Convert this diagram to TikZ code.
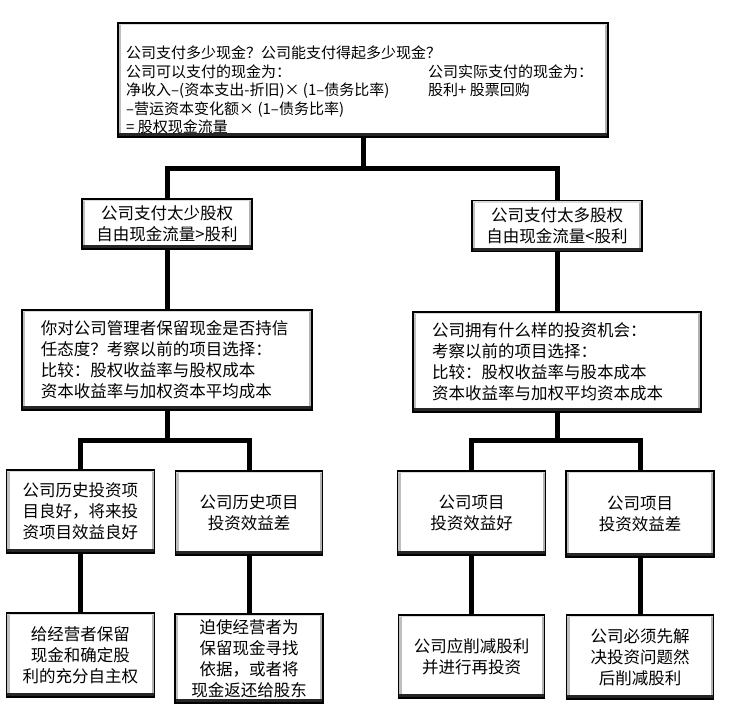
\documentclass[tikz,border=0pt]{standalone}
\usepackage{fontspec}
\newfontfamily\cjk{Noto Sans CJK SC}
\pgfdeclarelayer{bg}
\pgfsetlayers{bg,main}
\tikzset{
  bx/.style={draw=black, line width=1.2pt, fill=white, inner sep=0pt, outer sep=0pt,
    align=center, font=\cjk\fontsize{16.5}{21}\selectfont},
  midtxt/.style={align=left, inner xsep=19pt},
  conn/.style={line width=5pt, line join=miter, line cap=butt, draw=black},
  toptxt/.style={anchor=west, align=left, inner sep=0pt, font=\cjk\fontsize{15}{18.5}\selectfont},
}
\newcommand\bevel[1]{%
  \fill[gray!50] ([xshift=0.6pt]#1.north west) rectangle ([xshift=3.2pt]#1.south west);
  \fill[gray!60] ([xshift=-2.8pt]#1.north east) rectangle ([xshift=-0.6pt]#1.south east);
  \fill[gray!30] ([yshift=-0.6pt]#1.north west) rectangle ([yshift=-2.4pt]#1.north east);
  \fill[black!85] (#1.south west) rectangle ([yshift=3.8pt]#1.south east);
  \draw[line width=1.2pt] (#1.south west) rectangle (#1.north east);
}
\begin{document}
\begin{tikzpicture}[x=1pt,y=-1pt]
\useasboundingbox (0,0) rectangle (732,718);

% top box
\node[bx, minimum width=490pt, minimum height=114pt] (top) at (363,80) {};
\bevel{top}
\node[toptxt] (toptext) at (126,90) {公司支付多少现金？公司能支付得起多少现金？\\
\makebox[302pt][l]{公司可以支付的现金为：}公司实际支付的现金为：\\
\makebox[302pt][l]{净收入–(资本支出-折旧)× (1–债务比率)}股利+ 股票回购\\
–营运资本变化额× (1–债务比率)\\
= 股权现金流量};

% level 2
\node[bx, minimum width=170pt, minimum height=50pt] (l2l) at (167,224) {公司支付太少股权\\自由现金流量>股利};
\bevel{l2l}
\node[bx, minimum width=170pt, minimum height=51pt] (l2r) at (557,226) {公司支付太多股权\\自由现金流量<股利};
\bevel{l2r}

% middle
\node[bx, midtxt, text width=252pt, minimum height=100pt] (ml) at (167,360)
  {你对公司管理者保留现金是否持信\\任态度？考察以前的项目选择：\\比较：股权收益率与股权成本\\资本收益率与加权资本平均成本};
\bevel{ml}
\node[bx, midtxt, text width=250pt, minimum height=100pt] (mr) at (557,362)
  {公司拥有什么样的投资机会：\\考察以前的项目选择：\\比较：股权收益率与股本成本\\资本收益率与加权平均资本成本};
\bevel{mr}

% level 3
\node[bx, minimum width=148pt, minimum height=83pt] (l3a) at (80.5,511.5) {公司历史投资项\\目良好，将来投\\资项目效益良好};
\bevel{l3a}
\node[bx, minimum width=147pt, minimum height=84pt] (l3b) at (249,513) {公司历史项目\\投资效益差};
\bevel{l3b}
\node[bx, minimum width=148pt, minimum height=84pt] (l3c) at (471.5,513) {公司项目\\投资效益好};
\bevel{l3c}
\node[bx, minimum width=148pt, minimum height=86pt] (l3d) at (640,514) {公司项目\\投资效益差};
\bevel{l3d}

% level 4
\node[bx, minimum width=148pt, minimum height=84pt] (l4a) at (80.5,655) {给经营者保留\\现金和确定股\\利的充分自主权};
\bevel{l4a}
\node[bx, minimum width=148pt, minimum height=89pt] (l4b) at (249,658.5) {迫使经营者为\\保留现金寻找\\依据，或者将\\现金返还给股东};
\bevel{l4b}
\node[bx, minimum width=146pt, minimum height=83pt] (l4c) at (471.5,656.5) {公司应削减股利\\并进行再投资};
\bevel{l4c}
\node[bx, minimum width=147pt, minimum height=84pt] (l4d) at (640,657) {公司必须先解\\决投资问题然\\后削减股利};
\bevel{l4d}

% connectors
\begin{pgfonlayer}{bg}
\fill[white] (0,0) rectangle (732,718);
\coordinate (j1) at (363,168);
\coordinate (j2) at (167,440);
\coordinate (j3) at (557,440);
\draw[conn] (top.south) -- (j1);
\draw[conn] (l2l.north) |- (j1) -| (l2r.north);
\draw[conn] (l2l.south) -- (ml.north);
\draw[conn] (l2r.south) -- (mr.north);
\draw[conn] (ml.south) -- (j2);
\draw[conn] (l3a.north) |- (j2) -| (l3b.north);
\draw[conn] (mr.south) -- (j3);
\draw[conn] (l3c.north) |- (j3) -| (l3d.north);
\draw[conn] (l3a.south) -- (l4a.north);
\draw[conn] (l3b.south) -- (l4b.north);
\draw[conn] (l3c.south) -- (l4c.north);
\draw[conn] (l3d.south) -- (l4d.north);
\end{pgfonlayer}
\end{tikzpicture}
\end{document}
